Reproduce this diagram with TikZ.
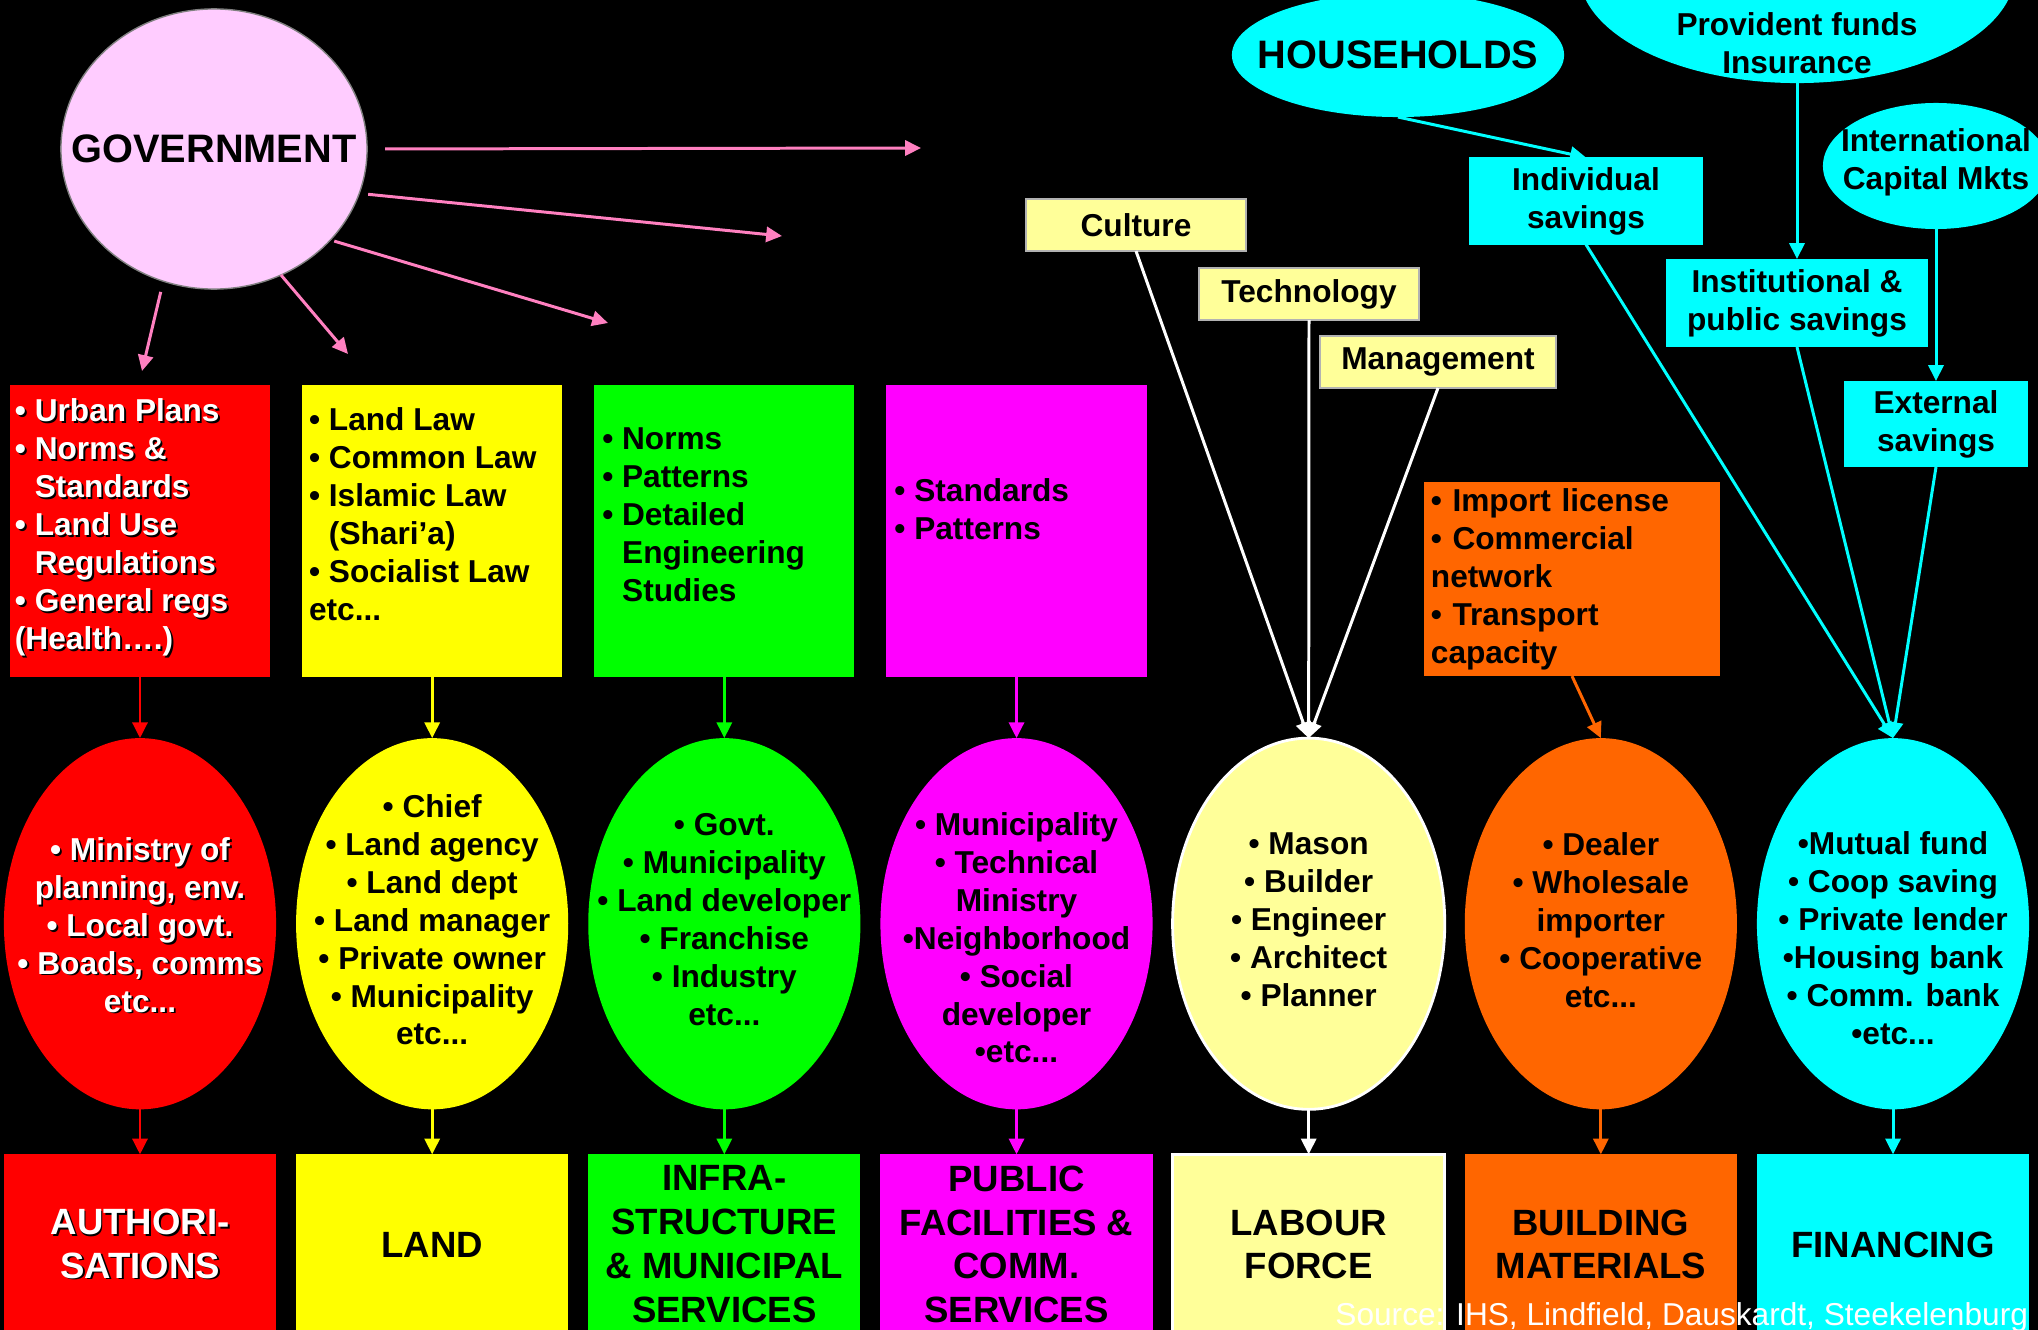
\documentclass[tikz,border=0pt]{standalone}
\usepackage{fontspec}
\setmainfont{Liberation Sans}
\usetikzlibrary{positioning,shapes.geometric,arrows.meta}
\definecolor{redc}{RGB}{255,0,0}
\definecolor{yel}{RGB}{255,255,0}
\definecolor{grn}{RGB}{0,255,0}
\definecolor{mag}{RGB}{255,0,255}
\definecolor{cyn}{RGB}{0,255,255}
\definecolor{paleyel}{RGB}{255,255,153}
\definecolor{orng}{RGB}{255,102,0}
\definecolor{pinkfill}{RGB}{255,204,255}
\definecolor{pinkline}{RGB}{255,128,192}
\newcommand{\shd}[1]{\rlap{\kern0.55pt\raisebox{-0.55pt}{\color{black}#1}}#1}
\newcommand{\ind}{\phantom{• }}

\begin{document}
\begin{tikzpicture}
[x=0.01cm,y=-0.01cm,
 every node/.style={inner sep=0mm,outer sep=0mm,font=\bfseries\fontsize{9}{10.8}\selectfont},
 topbox/.style={rectangle,minimum width=26mm,minimum height=29.1mm},
 oval/.style={ellipse,minimum width=27.2mm,minimum height=37.1mm},
 btm/.style={rectangle,minimum width=27.2mm,minimum height=18mm,align=center,font=\bfseries\fontsize{10.4}{12.5}\selectfont},
 note/.style={rectangle,fill=paleyel,draw=gray!60,thin,minimum height=5.2mm},
 sav/.style={rectangle,fill=cyn,align=center},
 lft/.style={align=left},
 mid/.style={align=center},
 big/.style={align=center,font=\bfseries\fontsize{11.3}{13}\selectfont},
 tip/.style={line width=0.85pt,-{Triangle[length=4.5pt,width=4.3pt]}}]
\useasboundingbox (0,0) rectangle (2038,1330);
\fill[black] (0,0) rectangle (2038,1330);
\clip (0,0) rectangle (2038,1330);

% government and its free arrows
\node[ellipse,fill=pinkfill,draw=gray,minimum width=30.6mm,minimum height=28mm,label={[big]center:GOVERNMENT}] (gov) at (214,149) {};
\coordinate (g1) at (921,148);
\coordinate (g2) at (782,236);
\coordinate (g3) at (608,323);
\coordinate (g4) at (348,354);
\coordinate (g5) at (142,371);
\path[tip,pinkline,shorten <=1.8mm] (gov.0)    edge (g1);
\path[tip,pinkline,shorten <=0.9mm] (gov.-17)  edge (g2);
\path[tip,pinkline,shorten <=0.4mm] (gov.-38)  edge (g3);
\path[tip,pinkline]                 (gov.-62)  edge (g4);
\path[tip,pinkline,shorten <=1.1mm] (gov.-111) edge (g5);

% top row of rule boxes
\node[topbox,fill=redc] (authT) at (140,531) {};
\node[topbox,fill=yel]  (landT) [on grid,right=29.2mm of authT] {};
\node[topbox,fill=grn]  (infraT) [on grid,right=29.2mm of landT] {};
\node[topbox,fill=mag]  (publT) [on grid,right=29.2mm of infraT] {};
\node[lft,text=white,anchor=west] (authL) at ([shift={(5,-3)}]authT.west)
  {\shd{• Urban Plans}\\\shd{• Norms \&}\\\shd{\ind Standards}\\\shd{• Land Use}\\\shd{\ind Regulations}\\\shd{• General regs}\\\shd{(Health….)}};
\node[lft,anchor=west] (landL) at ([shift={(7,-17)}]landT.west)
  {• Land Law\\• Common Law\\• Islamic Law\\\ind(Shari’a)\\• Socialist Law\\etc...};
\node[lft,anchor=west] (infraL) at ([shift={(8,-16)}]infraT.west)
  {• Norms\\• Patterns\\• Detailed\\\ind Engineering\\\ind Studies};
\node[lft,anchor=west] (publL) at ([shift={(8,-22)}]publT.west)
  {• Standards\\• Patterns};

% actors
\node[oval,fill=redc,label={[mid,text=white,yshift=-0.02cm]center:{\shd{• Ministry of}\\\shd{planning, env.}\\\shd{• Local govt.}\\\shd{• Boads, comms}\\\shd{etc...}}}] (authO) [on grid,below=39.25mm of authT] {};
\node[oval,fill=yel,label={[mid,yshift=0.04cm]center:{• Chief\\• Land agency\\• Land dept\\• Land manager\\• Private owner\\• Municipality\\etc...}}] (landO) [on grid,right=29.2mm of authO] {};
\node[oval,fill=grn,label={[mid,yshift=0.04cm]center:{• Govt.\\• Municipality\\• Land developer\\• Franchise\\• Industry\\etc...}}] (infraO) [on grid,right=29.2mm of landO] {};
\node[oval,fill=mag,label={[mid,yshift=-0.14cm]center:{• Municipality\\• Technical\\Ministry\\•Neighborhood\\• Social\\developer\\•etc...}}] (publO) [on grid,right=29.2mm of infraO] {};
\node[oval,fill=paleyel,draw=white,thick,label={[mid,yshift=0.04cm]center:{• Mason\\• Builder\\• Engineer\\• Architect\\• Planner}}] (labO) [on grid,right=29.2mm of publO] {};
\node[oval,fill=orng,label={[mid,yshift=0.04cm]center:{• Dealer\\• Wholesale\\importer\\• Cooperative\\etc...}}] (matO) [on grid,right=29.2mm of labO] {};
\node[oval,fill=cyn,label={[mid,yshift=-0.14cm]center:{•Mutual fund\\• Coop saving\\• Private lender\\•Housing bank\\• Comm. bank\\•etc...}}] (finO) [on grid,right=29.2mm of matO] {};

% markets
\node[btm,fill=redc,text=white] (authB) [on grid,below=32.05mm of authO] {\shd{AUTHORI-}\\\shd{SATIONS}};
\node[btm,fill=yel]  (landB)  [on grid,below=32.05mm of landO]  {LAND};
\node[btm,fill=grn]  (infraB) [on grid,below=32.05mm of infraO] {INFRA-\\STRUCTURE\\\& MUNICIPAL\\SERVICES};
\node[btm,fill=mag]  (publB)  [on grid,below=32.05mm of publO]  {PUBLIC\\FACILITIES \&\\COMM.\\SERVICES};
\node[btm,fill=paleyel,draw=white,thick] (labB) [on grid,below=32.05mm of labO] {LABOUR\\FORCE};
\node[btm,fill=orng] (matB)   [on grid,below=32.05mm of matO]   {BUILDING\\MATERIALS};
\node[btm,fill=cyn]  (finB)   [on grid,below=32.05mm of finO]   {FINANCING};

% inputs on the right
\node[note,minimum width=22mm] (cult) at (1136,225) {Culture};
\node[note,minimum width=22mm] (tech) at (1309,294) {Technology};
\node[note,minimum width=23.6mm] (mgmt) at (1438,362) {Management};
\node[rectangle,fill=orng,minimum width=29.6mm,minimum height=19.4mm,text width=28.2mm,inner xsep=0.7mm,lft] (imp) at (1572,579)
  {• Import license\\• Commercial\\network\\• Transport\\capacity};
\node[ellipse,fill=cyn,minimum width=33.2mm,minimum height=12.4mm,label={[big]center:HOUSEHOLDS}] (hh) at (1398,55) {};
\node[ellipse,fill=cyn,minimum width=43.6mm,minimum height=22.2mm,label={[mid,yshift=-0.715cm]center:{Provident funds\\Insurance}}] (pens) at (1797,-28) {};
\node[ellipse,fill=cyn,minimum width=22.6mm,minimum height=12.6mm,label={[mid,yshift=0.04cm]center:{International\\Capital Mkts}}] (intl) at (1936,166) {};
\node[sav,minimum width=23.4mm,minimum height=8.7mm] (indiv) at (1586,201) {Individual\\savings};
\node[sav,minimum width=26.1mm,minimum height=8.8mm] (inst) at (1797,303) {Institutional \&\\public savings};
\node[sav,minimum width=18.4mm,minimum height=8.6mm] (ext) at (1936,424) {External\\savings};

\path[tip,redc] (authT)  edge (authO);
\path[tip,yel]  (landT)  edge (landO);
\path[tip,grn]  (infraT) edge (infraO);
\path[tip,mag]  (publT)  edge (publO);
\path[tip,redc] (authO)  edge (authB);
\path[tip,yel]  (landO)  edge (landB);
\path[tip,grn]  (infraO) edge (infraB);
\path[tip,mag]  (publO)  edge (publB);
\path[tip,white] (labO)  edge (labB);
\path[tip,orng] (matO)   edge (matB);
\path[tip,cyn]  (finO)   edge (finB);

\path[tip,white] (cult.south) edge (labO.north);
\path[tip,white] (tech.south) edge (labO.north);
\path[tip,white] (mgmt.south) edge (labO.north);
\path[tip,orng] (imp.south)   edge (matO.north);
\path[tip,cyn]  (hh.south)    edge (indiv.north);
\path[tip,cyn]  (pens.south)  edge (inst.north);
\path[tip,cyn]  (intl.south)  edge (ext.north);
\path[tip,cyn]  (indiv.south) edge (finO.north);
\path[tip,cyn]  (inst.south)  edge (finO.north);
\path[tip,cyn]  (ext.south)   edge (finO.north);

\node[font=\fontsize{9}{10.8}\selectfont,text=white,anchor=base east] (src) at (2028,1325) {Source: IHS, Lindfield, Dauskardt, Steekelenburg};
\end{tikzpicture}
\end{document}
